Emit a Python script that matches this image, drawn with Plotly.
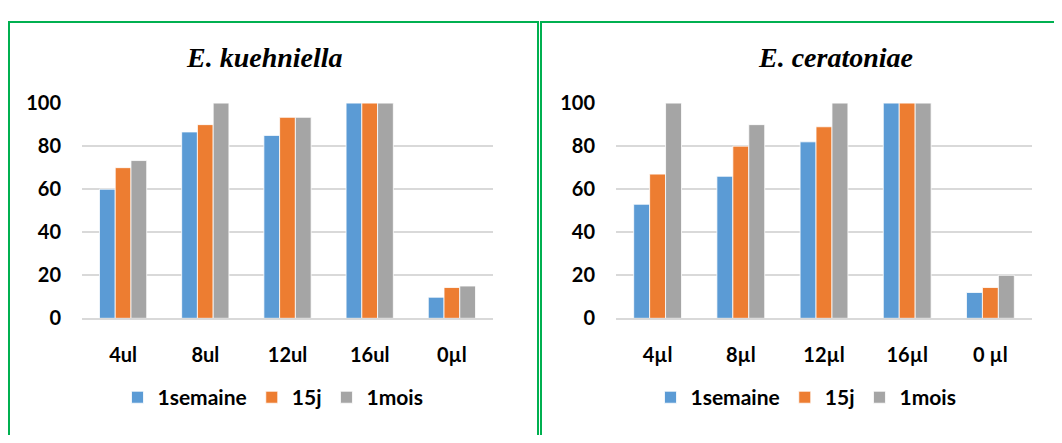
import plotly.graph_objects as go

categories_left = ["4ul", "8ul", "12ul", "16ul", "0µl"]
categories_right = ["4µl", "8µl", "12µl", "16µl", "0 µl"]
series_names = ["1semaine", "15j", "1mois"]
colors = ["#5B9BD5", "#ED7D31", "#A5A5A5"]

left_values = {
    "1semaine": [60, 86.6, 85, 100, 9.8],
    "15j": [70, 90, 93.4, 100, 14.3],
    "1mois": [73.3, 100, 93.4, 100, 15],
}
right_values = {
    "1semaine": [53, 66, 82, 100, 12],
    "15j": [67, 80, 89, 100, 14.3],
    "1mois": [100, 90, 100, 100, 20],
}
y_ticks = [0, 20, 40, 60, 80, 100]

OFF = 8  # page body margin
W, H = 1062 - 2 * OFF, 443 - 2 * OFF  # figure fits the window without overflow
FONT = "Lato"


def px(x):
    return (x - OFF) / W


def py(y):
    return 1 - (y - OFF) / H


fig = go.Figure()

for name, col in zip(series_names, colors):
    fig.add_trace(go.Bar(x=categories_left, y=left_values[name], name=name,
                         marker=dict(color=col, line=dict(color="white", width=0.8)),
                         xaxis="x", yaxis="y", legend="legend"))
for name, col in zip(series_names, colors):
    fig.add_trace(go.Bar(x=categories_right, y=right_values[name], name=name,
                         marker=dict(color=col, line=dict(color="white", width=0.8)),
                         xaxis="x2", yaxis="y2", legend="legend2"))

ydom = [py(323), py(95)]
ytick_font = dict(family=FONT, size=20, color="#000000", weight="bold")
xtick_font = dict(family=FONT, size=20, color="#000000", weight="bold")
common_y = dict(range=[0, 100], tickvals=y_ticks, showgrid=True, gridcolor="#D9D9D9",
                gridwidth=1.5, zeroline=False, showline=False, tickfont=ytick_font,
                ticks="", ticklabelstandoff=20, fixedrange=True)
common_x = dict(showgrid=False, showline=True, linecolor="#D9D9D9", linewidth=1.5,
                tickfont=xtick_font, ticks="", ticklabelstandoff=18, fixedrange=True)
leg_font = dict(family=FONT, size=21, color="#000", weight="bold")

fig.update_layout(
    width=W, height=H,
    margin=dict(l=0, r=0, t=0, b=0),
    paper_bgcolor="white", plot_bgcolor="white",
    barmode="group", bargap=0.425, bargroupgap=0,
    xaxis=dict(domain=[px(82), px(493)], anchor="y", **common_x),
    yaxis=dict(domain=ydom, anchor="x", **common_y),
    xaxis2=dict(domain=[px(616), px(1032)], anchor="y2", **common_x),
    yaxis2=dict(domain=ydom, anchor="x2", **common_y),
    legend=dict(orientation="h", x=px(273), y=py(407), xanchor="center", yanchor="middle",
                font=leg_font, itemclick=False, traceorder="normal", itemwidth=30),
    legend2=dict(orientation="h", x=px(806), y=py(407), xanchor="center", yanchor="middle",
                 font=leg_font, itemclick=False, traceorder="normal", itemwidth=30),
    showlegend=True,
    shapes=[
        dict(type="rect", xref="paper", yref="paper", x0=px(9), x1=px(538), y0=-0.05, y1=py(9),
             line=dict(color="#00B050", width=2)),
        dict(type="rect", xref="paper", yref="paper", x0=px(541), x1=1.05, y0=-0.05, y1=py(9),
             line=dict(color="#00B050", width=2)),
    ],
    annotations=[
        dict(text="<b><i>E. kuehniella</i></b>", xref="paper", yref="paper", x=px(264), y=py(47),
             xanchor="center", yanchor="middle", showarrow=False,
             font=dict(family="Liberation Serif", size=28, color="#000")),
        dict(text="<b><i>E. ceratoniae</i></b>", xref="paper", yref="paper", x=px(835), y=py(47),
             xanchor="center", yanchor="middle", showarrow=False,
             font=dict(family="Liberation Serif", size=28, color="#000")),
    ],
)

fig.write_html("out.html")
